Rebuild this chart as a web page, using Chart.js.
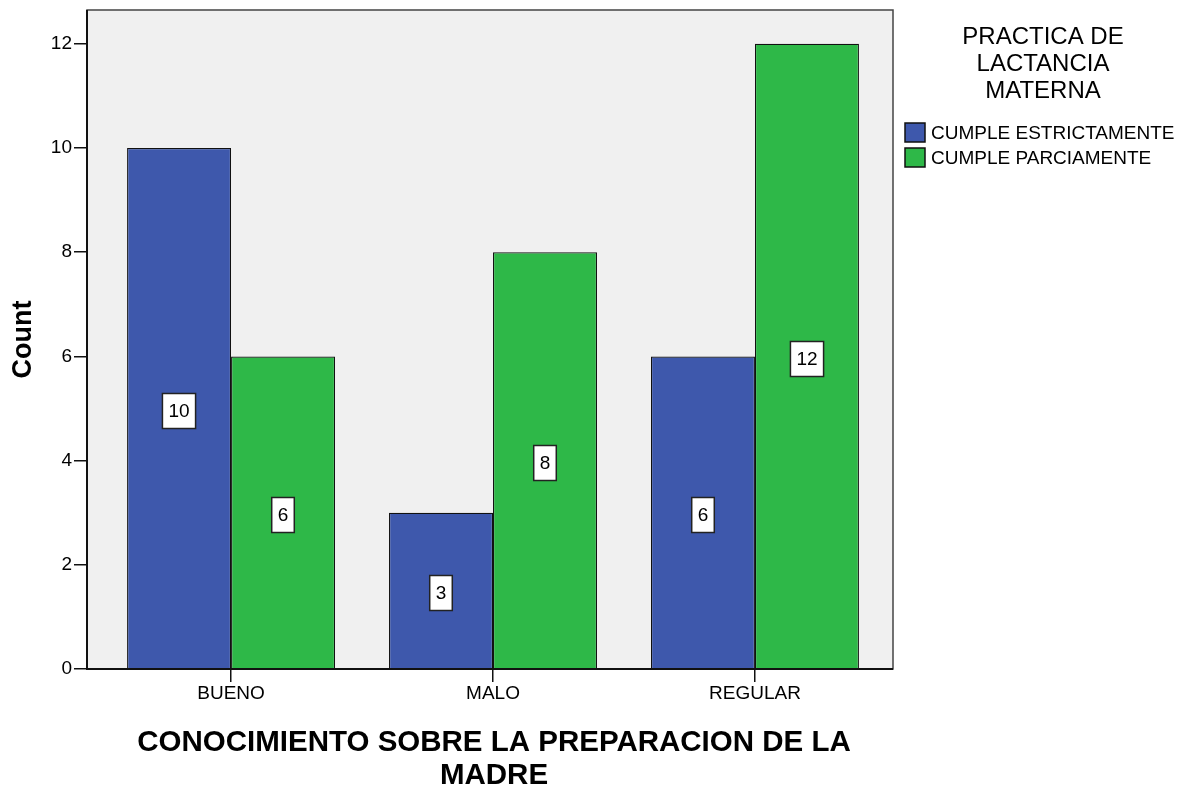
<!DOCTYPE html>
<html>
<head>
<meta charset="utf-8">
<script src="https://cdn.jsdelivr.net/npm/chart.js@4/dist/chart.umd.min.js"></script>
<style>
  html, body { margin: 0; padding: 0; background: #fff; }
  #wrap { width: 1198px; height: 787px; }
</style>
</head>
<body>
<div id="wrap"><canvas id="chart" width="1198" height="787"></canvas></div>
<script>
// ── Data ──────────────────────────────────────────────────────────────
const categories          = ['BUENO', 'MALO', 'REGULAR'];
const seriesNames         = ['CUMPLE ESTRICTAMENTE', 'CUMPLE PARCIAMENTE'];
const cumpleEstrictamente = [10, 3, 6];
const cumpleParciamente   = [6, 8, 12];
const yTicks              = [0, 2, 4, 6, 8, 10, 12];
const legendTitle         = ['PRACTICA DE', 'LACTANCIA', 'MATERNA'];
const xTitle              = ['CONOCIMIENTO SOBRE LA PREPARACION DE LA', 'MADRE'];
const yTitle              = 'Count';

const colors = ['#3E58AC', '#2EB848'];
const FONT   = '"Liberation Sans", Arial, sans-serif';

function toPoints(values) {
    return values.map((v, i) => ({ x: i, y: v }));
}

// ── Frame, labels, titles, legend ─────────────────────────────────────
const spssPlugin = {
    id: 'spss',
    beforeDatasetsDraw(chart) {
        const { ctx, chartArea: a } = chart;
        ctx.save();
        ctx.fillStyle = '#F0F0F0';
        ctx.fillRect(a.left, a.top, a.right - a.left, a.bottom - a.top);
        ctx.restore();
    },
    afterDatasetsDraw(chart) {
        const { ctx, chartArea: a } = chart;
        ctx.save();

        // value boxes
        ctx.font = '19px ' + FONT;
        ctx.textAlign = 'center';
        ctx.textBaseline = 'middle';
        chart.data.datasets.forEach((ds, di) => {
            chart.getDatasetMeta(di).data.forEach((bar, i) => {
                const txt = String(ds.data[i].y);
                const w = ctx.measureText(txt).width + 12;
                const h = 35;
                const cx = Math.round(bar.x);
                const cy = Math.round((bar.y + bar.base) / 2 + 2.5);
                ctx.fillStyle = '#fff';
                ctx.fillRect(cx - w / 2, cy - h / 2, w, h);
                ctx.lineWidth = 1.5;
                ctx.strokeStyle = '#222';
                ctx.strokeRect(cx - w / 2, cy - h / 2, w, h);
                ctx.fillStyle = '#000';
                ctx.fillText(txt, cx, cy + 1);
            });
        });

        // frame
        ctx.lineWidth = 1.5;
        ctx.strokeStyle = '#444';
        ctx.strokeRect(a.left, a.top, a.right - a.left, a.bottom - a.top);
        ctx.lineWidth = 2;
        ctx.strokeStyle = '#111';
        ctx.beginPath();
        ctx.moveTo(a.left, a.top);
        ctx.lineTo(a.left, a.bottom);
        ctx.lineTo(a.right, a.bottom);
        ctx.stroke();

        // y title
        ctx.fillStyle = '#000';
        ctx.font = 'bold 27px ' + FONT;
        ctx.save();
        ctx.translate(24, (a.top + a.bottom) / 2);
        ctx.rotate(-Math.PI / 2);
        ctx.fillText(yTitle, 0, 0);
        ctx.restore();

        // x title
        ctx.font = 'bold 29.5px ' + FONT;
        xTitle.forEach((line, i) => ctx.fillText(line, 494, 743 + i * 33));

        // legend
        ctx.font = '24px ' + FONT;
        legendTitle.forEach((line, i) => ctx.fillText(line, 1043, 37 + i * 27));
        ctx.font = '19px ' + FONT;
        ctx.textAlign = 'left';
        seriesNames.forEach((name, i) => {
            const y = 133 + i * 25;
            ctx.fillStyle = colors[i];
            ctx.fillRect(905, y - 10, 20, 19);
            ctx.lineWidth = 1.5;
            ctx.strokeStyle = '#111';
            ctx.strokeRect(905, y - 10, 20, 19);
            ctx.fillStyle = '#000';
            ctx.fillText(name, 931, y + 1);
        });

        ctx.restore();
    },
};

// ── Chart ─────────────────────────────────────────────────────────────
new Chart(document.getElementById('chart'), {
    type: 'bar',
    data: {
        datasets: [
            { label: seriesNames[0], data: toPoints(cumpleEstrictamente), backgroundColor: colors[0] },
            { label: seriesNames[1], data: toPoints(cumpleParciamente),   backgroundColor: colors[1] },
        ],
    },
    options: {
        responsive: false,
        animation: false,
        layout: { padding: { top: 10, right: 305, left: 0, bottom: 0 } },
        datasets: {
            bar: {
                borderColor: '#111',
                borderWidth: 1.2,
                borderSkipped: 'bottom',
                categoryPercentage: 0.794,
                barPercentage: 1,
            },
        },
        plugins: {
            legend:  { display: false },
            tooltip: { enabled: false },
        },
        scales: {
            x: {
                type: 'linear',
                offset: false,
                min: -0.55,
                max: 2.527,
                afterBuildTicks: s => { s.ticks = categories.map((_, i) => ({ value: i })); },
                afterFit: s => { s.height = 118; s.paddingLeft = 0; s.paddingRight = 0; },
                ticks: {
                    callback: v => categories[v] ?? '',
                    color: '#000',
                    font: { family: FONT, size: 19 },
                    padding: 0,
                    maxRotation: 0,
                },
                grid: { offset: false, drawOnChartArea: false, drawTicks: true, tickLength: 13, color: '#111', lineWidth: 1.5 },
                border: { display: false },
            },
            y: {
                min: 0,
                max: 12.65,
                afterBuildTicks: s => { s.ticks = yTicks.map(v => ({ value: v })); },
                afterFit: s => { s.width = 87; s.paddingTop = 0; s.paddingBottom = 0; },
                ticks: {
                    color: '#000',
                    font: { family: FONT, size: 19 },
                    padding: 2,
                },
                grid: { drawOnChartArea: false, drawTicks: true, tickLength: 13, color: '#111', lineWidth: 1.5 },
                border: { display: false },
            },
        },
    },
    plugins: [spssPlugin],
});
</script>
</body>
</html>
